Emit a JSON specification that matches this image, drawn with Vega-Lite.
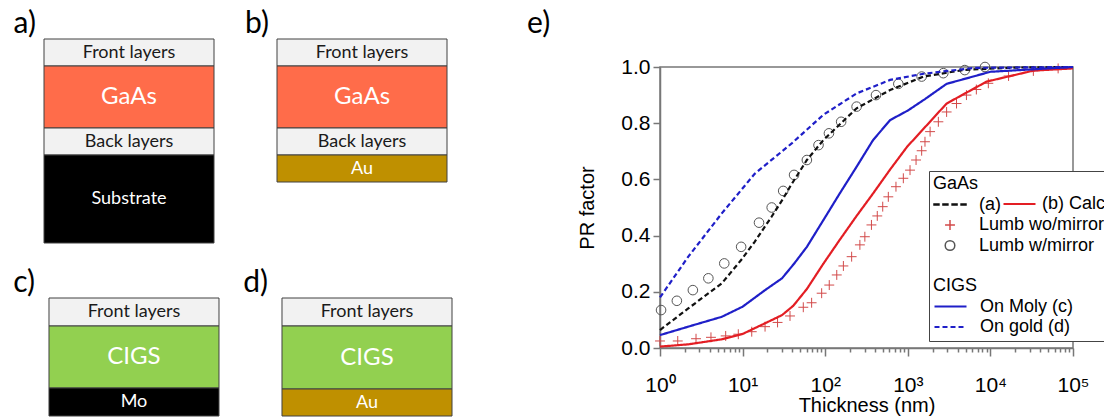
{
  "$schema": "https://vega.github.io/schema/vega-lite/v6.json",
  "autosize": {"type": "none"},
  "padding": {"left": 44, "top": 67, "right": 1060, "bottom": 350},
  "bounds": "flush",
  "spacing": 208,
  "config": {"font": "Liberation Sans", "view": {"stroke": null}},
  "resolve": {"scale": {"color": "independent", "shape": "independent", "strokeDash": "independent"}, "legend": {"color": "independent", "shape": "independent", "strokeDash": "independent"}},
  "hconcat": [
    {
      "width": 408,
      "height": 349,
      "view": {"stroke": null},
      "resolve": {"scale": {"x": "independent", "y": "independent"}},
      "layer": [
        {
          "layer": [
            {
              "data": {"values": [
                {"panel": "a", "layer": "Front layers", "material": "layers", "pos": 1, "thickness": 27},
                {"panel": "a", "layer": "GaAs", "material": "GaAs", "pos": 2, "thickness": 62},
                {"panel": "a", "layer": "Back layers", "material": "layers", "pos": 3, "thickness": 27},
                {"panel": "a", "layer": "Substrate", "material": "Substrate", "pos": 4, "thickness": 88},
                {"panel": "b", "layer": "Front layers", "material": "layers", "pos": 1, "thickness": 27},
                {"panel": "b", "layer": "GaAs", "material": "GaAs", "pos": 2, "thickness": 62},
                {"panel": "b", "layer": "Back layers", "material": "layers", "pos": 3, "thickness": 27},
                {"panel": "b", "layer": "Au", "material": "Au", "pos": 4, "thickness": 27}
              ]},
              "layer": [
                {
                  "mark": {"type": "bar", "stroke": "#404040", "strokeWidth": 1},
                  "encoding": {
                    "x": {"field": "panel", "type": "nominal", "axis": null, "scale": {"paddingInner": 0.2704, "paddingOuter": 0.0107, "align": 0}},
                    "y": {"field": "thickness", "type": "quantitative", "stack": "zero", "axis": null, "scale": {"domain": [28, 377], "reverse": true, "nice": false, "zero": false}},
                    "order": {"field": "pos", "type": "quantitative"},
                    "detail": {"field": "layer"},
                    "color": {"field": "material", "type": "nominal", "legend": null, "scale": {"domain": ["layers", "GaAs", "Substrate", "Mo", "Au", "CIGS"], "range": ["#F2F2F2", "#FF6C4A", "#000000", "#000000", "#BF9000", "#92D050"]}}
                  }
                },
                {
                  "mark": {"type": "text", "font": "Lato", "baseline": "middle"},
                  "encoding": {
                    "x": {"field": "panel", "type": "nominal", "axis": null},
                    "y": {"field": "thickness", "type": "quantitative", "stack": "zero", "bandPosition": 0.5, "axis": null},
                    "order": {"field": "pos", "type": "quantitative"},
                    "detail": {"field": "layer"},
                    "text": {"field": "layer"},
                    "color": {"condition": {"test": "datum.material === 'layers'", "value": "#1a1a1a"}, "value": "#ffffff"},
                    "size": {"condition": {"test": "datum.material === 'GaAs' || datum.material === 'CIGS'", "value": 24}, "value": 18}
                  }
                }
              ]
            },
            {
              "data": {"values": [{"panel": "a", "label": "a)"}, {"panel": "b", "label": "b)"}]},
              "mark": {"type": "text", "font": "Lato", "fontSize": 30, "align": "right", "baseline": "alphabetic", "dx": -8, "dy": -6, "color": "#000000"},
              "encoding": {
                "x": {"field": "panel", "type": "nominal", "bandPosition": 0, "axis": null},
                "y": {"datum": 0, "type": "quantitative"},
                "text": {"field": "label"}
              }
            }
          ]
        },
        {
          "layer": [
            {
              "data": {"values": [
                {"panel": "c", "layer": "Front layers", "material": "layers", "pos": 1, "thickness": 28},
                {"panel": "c", "layer": "CIGS", "material": "CIGS", "pos": 2, "thickness": 62},
                {"panel": "c", "layer": "Mo", "material": "Mo", "pos": 3, "thickness": 28},
                {"panel": "d", "layer": "Front layers", "material": "layers", "pos": 1, "thickness": 28},
                {"panel": "d", "layer": "CIGS", "material": "CIGS", "pos": 2, "thickness": 63},
                {"panel": "d", "layer": "Au", "material": "Au", "pos": 3, "thickness": 27}
              ]},
              "layer": [
                {
                  "mark": {"type": "bar", "stroke": "#404040", "strokeWidth": 1},
                  "encoding": {
                    "x": {"field": "panel", "type": "nominal", "axis": null, "scale": {"paddingInner": 0.2704, "paddingOuter": 0.0107, "align": 1}},
                    "y": {"field": "thickness", "type": "quantitative", "stack": "zero", "axis": null, "scale": {"domain": [-231, 118], "reverse": true, "nice": false, "zero": false}},
                    "order": {"field": "pos", "type": "quantitative"},
                    "detail": {"field": "layer"},
                    "color": {"field": "material", "type": "nominal", "legend": null, "scale": {"domain": ["layers", "GaAs", "Substrate", "Mo", "Au", "CIGS"], "range": ["#F2F2F2", "#FF6C4A", "#000000", "#000000", "#BF9000", "#92D050"]}}
                  }
                },
                {
                  "mark": {"type": "text", "font": "Lato", "baseline": "middle"},
                  "encoding": {
                    "x": {"field": "panel", "type": "nominal", "axis": null},
                    "y": {"field": "thickness", "type": "quantitative", "stack": "zero", "bandPosition": 0.5, "axis": null},
                    "order": {"field": "pos", "type": "quantitative"},
                    "detail": {"field": "layer"},
                    "text": {"field": "layer"},
                    "color": {"condition": {"test": "datum.material === 'layers'", "value": "#1a1a1a"}, "value": "#ffffff"},
                    "size": {"condition": {"test": "datum.material === 'GaAs' || datum.material === 'CIGS'", "value": 24}, "value": 18}
                  }
                }
              ]
            },
            {
              "data": {"values": [{"panel": "c", "label": "c)"}, {"panel": "d", "label": "d)"}]},
              "mark": {"type": "text", "font": "Lato", "fontSize": 30, "align": "right", "baseline": "alphabetic", "dx": -14, "dy": -6, "color": "#000000"},
              "encoding": {
                "x": {"field": "panel", "type": "nominal", "bandPosition": 0, "axis": null},
                "y": {"datum": 0, "type": "quantitative"},
                "text": {"field": "label"}
              }
            }
          ]
        }
      ]
    },
    {
      "width": 413,
      "height": 281,
      "view": {"stroke": "#777777", "strokeWidth": 1.5},
      "title": {"text": "e)", "anchor": "start", "frame": "group", "orient": "top", "dx": -133, "offset": -7, "baseline": "alphabetic", "font": "Lato", "fontSize": 30, "fontWeight": "normal", "color": "#000000"},
      "data": {"values": [
        {"series": "(a)", "t": 1, "v": 0.064},
        {"series": "(a)", "t": 2.2, "v": 0.141},
        {"series": "(a)", "t": 5.6, "v": 0.23},
        {"series": "(a)", "t": 9.6, "v": 0.313},
        {"series": "(a)", "t": 14, "v": 0.378},
        {"series": "(a)", "t": 22.5, "v": 0.468},
        {"series": "(a)", "t": 31, "v": 0.532},
        {"series": "(a)", "t": 37.5, "v": 0.574},
        {"series": "(a)", "t": 60, "v": 0.669},
        {"series": "(a)", "t": 95, "v": 0.74},
        {"series": "(a)", "t": 240, "v": 0.853},
        {"series": "(a)", "t": 610, "v": 0.918},
        {"series": "(a)", "t": 1550, "v": 0.966},
        {"series": "(a)", "t": 4900, "v": 0.99},
        {"series": "(a)", "t": 20000, "v": 0.998},
        {"series": "(a)", "t": 100000, "v": 1.0},
        {"series": "(b) Calc.", "t": 1, "v": 0.005},
        {"series": "(b) Calc.", "t": 2.2, "v": 0.013},
        {"series": "(b) Calc.", "t": 5.6, "v": 0.031},
        {"series": "(b) Calc.", "t": 10, "v": 0.05},
        {"series": "(b) Calc.", "t": 18.7, "v": 0.088},
        {"series": "(b) Calc.", "t": 30, "v": 0.117},
        {"series": "(b) Calc.", "t": 41, "v": 0.15},
        {"series": "(b) Calc.", "t": 60, "v": 0.21},
        {"series": "(b) Calc.", "t": 95, "v": 0.3},
        {"series": "(b) Calc.", "t": 150, "v": 0.385},
        {"series": "(b) Calc.", "t": 240, "v": 0.47},
        {"series": "(b) Calc.", "t": 380, "v": 0.55},
        {"series": "(b) Calc.", "t": 610, "v": 0.635},
        {"series": "(b) Calc.", "t": 980, "v": 0.716},
        {"series": "(b) Calc.", "t": 1550, "v": 0.78},
        {"series": "(b) Calc.", "t": 2950, "v": 0.87},
        {"series": "(b) Calc.", "t": 9000, "v": 0.948},
        {"series": "(b) Calc.", "t": 33000, "v": 0.987},
        {"series": "(b) Calc.", "t": 100000, "v": 0.995},
        {"series": "On Moly (c)", "t": 1, "v": 0.046},
        {"series": "On Moly (c)", "t": 2.2, "v": 0.076},
        {"series": "On Moly (c)", "t": 5.6, "v": 0.111},
        {"series": "On Moly (c)", "t": 10, "v": 0.147},
        {"series": "On Moly (c)", "t": 18.7, "v": 0.206},
        {"series": "On Moly (c)", "t": 30, "v": 0.248},
        {"series": "On Moly (c)", "t": 42, "v": 0.3},
        {"series": "On Moly (c)", "t": 60, "v": 0.36},
        {"series": "On Moly (c)", "t": 95, "v": 0.455},
        {"series": "On Moly (c)", "t": 150, "v": 0.55},
        {"series": "On Moly (c)", "t": 240, "v": 0.645},
        {"series": "On Moly (c)", "t": 380, "v": 0.74},
        {"series": "On Moly (c)", "t": 610, "v": 0.811},
        {"series": "On Moly (c)", "t": 1000, "v": 0.845},
        {"series": "On Moly (c)", "t": 1600, "v": 0.885},
        {"series": "On Moly (c)", "t": 2950, "v": 0.94},
        {"series": "On Moly (c)", "t": 10000, "v": 0.983},
        {"series": "On Moly (c)", "t": 100000, "v": 1.0},
        {"series": "On gold (d)", "t": 1, "v": 0.18},
        {"series": "On gold (d)", "t": 2.2, "v": 0.325},
        {"series": "On gold (d)", "t": 5.6, "v": 0.479},
        {"series": "On gold (d)", "t": 14, "v": 0.62},
        {"series": "On gold (d)", "t": 40, "v": 0.73},
        {"series": "On gold (d)", "t": 95, "v": 0.83},
        {"series": "On gold (d)", "t": 240, "v": 0.906},
        {"series": "On gold (d)", "t": 610, "v": 0.954},
        {"series": "On gold (d)", "t": 1550, "v": 0.976},
        {"series": "On gold (d)", "t": 6500, "v": 0.997},
        {"series": "On gold (d)", "t": 100000, "v": 1.0},
        {"series": "Lumb w/mirror", "t": 1.03, "v": 0.135},
        {"series": "Lumb w/mirror", "t": 1.6, "v": 0.168},
        {"series": "Lumb w/mirror", "t": 2.5, "v": 0.206},
        {"series": "Lumb w/mirror", "t": 3.85, "v": 0.248},
        {"series": "Lumb w/mirror", "t": 6.0, "v": 0.301},
        {"series": "Lumb w/mirror", "t": 9.6, "v": 0.36},
        {"series": "Lumb w/mirror", "t": 15.8, "v": 0.446},
        {"series": "Lumb w/mirror", "t": 22.5, "v": 0.5},
        {"series": "Lumb w/mirror", "t": 31, "v": 0.559},
        {"series": "Lumb w/mirror", "t": 42, "v": 0.616},
        {"series": "Lumb w/mirror", "t": 60, "v": 0.669},
        {"series": "Lumb w/mirror", "t": 83, "v": 0.722},
        {"series": "Lumb w/mirror", "t": 111, "v": 0.764},
        {"series": "Lumb w/mirror", "t": 156, "v": 0.805},
        {"series": "Lumb w/mirror", "t": 240, "v": 0.859},
        {"series": "Lumb w/mirror", "t": 412, "v": 0.9},
        {"series": "Lumb w/mirror", "t": 768, "v": 0.94},
        {"series": "Lumb w/mirror", "t": 1470, "v": 0.966},
        {"series": "Lumb w/mirror", "t": 2690, "v": 0.978},
        {"series": "Lumb w/mirror", "t": 4900, "v": 0.989},
        {"series": "Lumb w/mirror", "t": 8600, "v": 1.0},
        {"series": "Lumb wo/mirror", "t": 1, "v": 0.025},
        {"series": "Lumb wo/mirror", "t": 1.64, "v": 0.025},
        {"series": "Lumb wo/mirror", "t": 2.73, "v": 0.033},
        {"series": "Lumb wo/mirror", "t": 4.14, "v": 0.038},
        {"series": "Lumb wo/mirror", "t": 6.24, "v": 0.043},
        {"series": "Lumb wo/mirror", "t": 8.87, "v": 0.049},
        {"series": "Lumb wo/mirror", "t": 12.9, "v": 0.058},
        {"series": "Lumb wo/mirror", "t": 18.7, "v": 0.076},
        {"series": "Lumb wo/mirror", "t": 26.5, "v": 0.091},
        {"series": "Lumb wo/mirror", "t": 37.5, "v": 0.114},
        {"series": "Lumb wo/mirror", "t": 54.3, "v": 0.145},
        {"series": "Lumb wo/mirror", "t": 68.5, "v": 0.161},
        {"series": "Lumb wo/mirror", "t": 90.6, "v": 0.195},
        {"series": "Lumb wo/mirror", "t": 112, "v": 0.224},
        {"series": "Lumb wo/mirror", "t": 138, "v": 0.26},
        {"series": "Lumb wo/mirror", "t": 166, "v": 0.292},
        {"series": "Lumb wo/mirror", "t": 209, "v": 0.325},
        {"series": "Lumb wo/mirror", "t": 263, "v": 0.367},
        {"series": "Lumb wo/mirror", "t": 302, "v": 0.396},
        {"series": "Lumb wo/mirror", "t": 363, "v": 0.438},
        {"series": "Lumb wo/mirror", "t": 427, "v": 0.47},
        {"series": "Lumb wo/mirror", "t": 497, "v": 0.503},
        {"series": "Lumb wo/mirror", "t": 581, "v": 0.538},
        {"series": "Lumb wo/mirror", "t": 719, "v": 0.574},
        {"series": "Lumb wo/mirror", "t": 883, "v": 0.604},
        {"series": "Lumb wo/mirror", "t": 1064, "v": 0.633},
        {"series": "Lumb wo/mirror", "t": 1259, "v": 0.669},
        {"series": "Lumb wo/mirror", "t": 1472, "v": 0.702},
        {"series": "Lumb wo/mirror", "t": 1614, "v": 0.734},
        {"series": "Lumb wo/mirror", "t": 1862, "v": 0.77},
        {"series": "Lumb wo/mirror", "t": 2344, "v": 0.805},
        {"series": "Lumb wo/mirror", "t": 2951, "v": 0.84},
        {"series": "Lumb wo/mirror", "t": 3890, "v": 0.87},
        {"series": "Lumb wo/mirror", "t": 5129, "v": 0.9},
        {"series": "Lumb wo/mirror", "t": 6761, "v": 0.92},
        {"series": "Lumb wo/mirror", "t": 9441, "v": 0.942},
        {"series": "Lumb wo/mirror", "t": 16596, "v": 0.968},
        {"series": "Lumb wo/mirror", "t": 33113, "v": 0.986},
        {"series": "Lumb wo/mirror", "t": 66069, "v": 0.995}
      ]},
      "encoding": {
        "x": {
          "field": "t", "type": "quantitative",
          "scale": {"type": "log", "domain": [1, 100000], "nice": false},
          "axis": {
            "values": [1, 2, 3, 4, 5, 6, 7, 8, 9, 10, 20, 30, 40, 50, 60, 70, 80, 90, 100, 200, 300, 400, 500, 600, 700, 800, 900, 1000, 2000, 3000, 4000, 5000, 6000, 7000, 8000, 9000, 10000, 20000, 30000, 40000, 50000, 60000, 70000, 80000, 90000, 100000],
            "labelExpr": "indexof([1,10,100,1000,10000,100000], datum.value) >= 0 ? '10' + ['⁰','¹','²','³','⁴','⁵'][round(log(datum.value)/LN10)] : ''",
            "tickSize": {"condition": {"test": "indexof([1,10,100,1000,10000,100000], datum.value) >= 0", "value": 8}, "value": 4},
            "grid": false,
            "domainColor": "#777777", "domainWidth": 1.5,
            "tickColor": "#777777", "tickWidth": 1.5,
            "labelFont": "Liberation Sans", "labelFontSize": 21, "labelColor": "#000000",
            "labelBaseline": "alphabetic", "labelPadding": 35,
            "labelFlush": false, "labelOverlap": false,
            "title": "Thickness (nm)", "titleFont": "Liberation Sans", "titleFontSize": 20, "titleFontWeight": "normal", "titleColor": "#000000",
            "titleY": 63, "titleBaseline": "alphabetic"
          }
        },
        "y": {
          "field": "v", "type": "quantitative",
          "scale": {"domain": [0, 1], "nice": false},
          "axis": {
            "values": [0, 0.2, 0.4, 0.6, 0.8, 1.0], "format": ".1f",
            "tickSize": 7, "labelPadding": 3, "grid": false,
            "domainColor": "#777777", "domainWidth": 1.5,
            "tickColor": "#777777", "tickWidth": 1.5,
            "labelFont": "Liberation Sans", "labelFontSize": 21, "labelColor": "#000000",
            "title": "PR factor", "titleFont": "Liberation Sans", "titleFontSize": 20, "titleFontWeight": "normal", "titleColor": "#000000",
            "titleX": -66.5, "titleBaseline": "alphabetic"
          }
        }
      },
      "resolve": {"scale": {"color": "independent", "shape": "independent", "strokeDash": "independent"}, "legend": {"color": "independent", "shape": "independent", "strokeDash": "independent"}},
      "layer": [
        {
          "transform": [{"filter": "datum.series === 'Lumb wo/mirror' || datum.series === 'Lumb w/mirror'"}],
          "mark": {"type": "point", "filled": false, "size": 1024, "strokeWidth": 1, "opacity": 1},
          "encoding": {
            "color": {
              "field": "series", "type": "nominal",
              "scale": {"domain": ["(a)", "Lumb wo/mirror", "Lumb w/mirror", " ", "  ", "   ", "    "], "range": ["#111111", "#d24a4a", "#555555", "transparent", "transparent", "transparent", "transparent"]},
              "legend": {
                "orient": "none", "legendX": 269, "legendY": 104, "direction": "vertical",
                "title": "GaAs", "titleFont": "Liberation Sans", "titleFontSize": 18, "titleFontWeight": "normal", "titleColor": "#000000", "titlePadding": 2,
                "labelFont": "Liberation Sans", "labelFontSize": 18, "labelColor": "#000000", "labelOffset": 12,
                "symbolSize": 1024, "clipHeight": 19, "rowPadding": 1.5, "padding": 4,
                "strokeColor": "#444444", "fillColor": "#ffffff"
              }
            },
            "shape": {
              "field": "series", "type": "nominal",
              "scale": {"domain": ["(a)", "Lumb wo/mirror", "Lumb w/mirror", " ", "  ", "   ", "    "], "range": ["M-1,-0.03H-0.69V0.03H-1ZM-0.44,-0.03H-0.13V0.03H-0.44ZM0.13,-0.03H0.44V0.03H0.13ZM0.69,-0.03H1V0.03H0.69Z", "M-0.31,0H0.31M0,-0.31V0.31", "M-0.3,0A0.3,0.3,0,1,0,0.3,0A0.3,0.3,0,1,0,-0.3,0Z", "M0,0", "M0,0", "M0,0", "M0,0"]}
            }
          }
        },
        {
          "transform": [{"filter": "datum.series !== 'Lumb wo/mirror' && datum.series !== 'Lumb w/mirror'"}],
          "mark": {"type": "line", "strokeWidth": 2.2},
          "encoding": {
            "color": {
              "field": "series", "type": "nominal",
              "scale": {"domain": ["(a)", "(b) Calc.", "On Moly (c)", "On gold (d)"], "range": ["#111111", "#e31e24", "#1f1fc8", "#1f1fc8"]},
              "legend": {
                "values": ["(b) Calc."], "orient": "none", "legendX": 342, "legendY": 127.5, "title": null,
                "labelFont": "Liberation Sans", "labelFontSize": 18, "labelColor": "#000000", "labelOffset": 5,
                "symbolType": "stroke", "symbolSize": 1024, "symbolStrokeWidth": 2.2, "clipHeight": 19, "padding": 0
              }
            },
            "strokeDash": {
              "field": "series", "type": "nominal",
              "scale": {"domain": ["On Moly (c)", "On gold (d)", "(a)", "(b) Calc."], "range": [[1, 0], [5, 3], [5, 3], [1, 0]]},
              "legend": {
                "values": ["On Moly (c)", "On gold (d)"], "orient": "none", "legendX": 273, "legendY": 210, "direction": "vertical",
                "title": "CIGS", "titleFont": "Liberation Sans", "titleFontSize": 18, "titleFontWeight": "normal", "titleColor": "#000000", "titlePadding": 2,
                "labelFont": "Liberation Sans", "labelFontSize": 18, "labelColor": "#000000", "labelOffset": 12,
                "symbolType": "stroke", "symbolSize": 1024, "symbolStrokeWidth": 2.2, "symbolStrokeColor": "#1f1fc8",
                "clipHeight": 19, "rowPadding": 1.5, "padding": 0
              }
            }
          }
        }
      ]
    }
  ]
}
